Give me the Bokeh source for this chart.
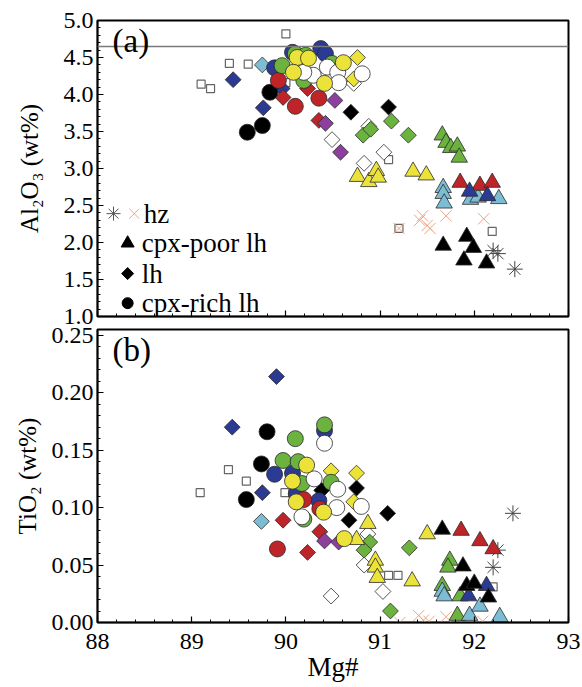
from bokeh.plotting import figure
from bokeh.layouts import column
from bokeh.models import Range1d, Label, Span, FixedTicker, CustomJSTickFormatter, NumeralTickFormatter
from bokeh.embed import file_html
from bokeh.resources import INLINE

# ---------------- Panel (a): Mg# vs Al2O3 ----------------
A_BLUE_CIRCLE_MG = [90.07, 90.37, 90.42, 89.88]
A_BLUE_CIRCLE_AL = [4.57, 4.62, 4.55, 4.36]
A_BLUE_DIAMOND_MG = [89.44, 89.76, 89.96]
A_BLUE_DIAMOND_AL = [4.20, 3.82, 4.08]
A_BLUE_TRIANGLE_MG = [91.95, 92.14]
A_BLUE_TRIANGLE_AL = [2.69, 2.63]
A_LBLUE_DIAMOND_MG = [89.75]
A_LBLUE_DIAMOND_AL = [4.40]
A_LBLUE_TRIANGLE_MG = [91.67, 91.67, 91.68, 91.96, 92.04, 92.26]
A_LBLUE_TRIANGLE_AL = [2.74, 2.66, 2.53, 2.58, 2.61, 2.59]
A_RED_CIRCLE_MG = [89.92, 90.10, 90.35]
A_RED_CIRCLE_AL = [4.19, 3.84, 3.95]
A_RED_DIAMOND_MG = [89.97, 90.23, 90.35]
A_RED_DIAMOND_AL = [3.96, 4.08, 3.65]
A_RED_TRIANGLE_MG = [91.85, 92.06, 92.19]
A_RED_TRIANGLE_AL = [2.81, 2.77, 2.81]
A_GREEN_CIRCLE_MG = [90.10, 90.21, 89.96, 90.19, 90.49]
A_GREEN_CIRCLE_AL = [4.55, 4.53, 4.39, 4.19, 4.42]
A_GREEN_DIAMOND_MG = [90.82, 90.90, 91.12, 91.30]
A_GREEN_DIAMOND_AL = [3.45, 3.53, 3.64, 3.45]
A_GREEN_TRIANGLE_MG = [91.66, 91.70, 91.75, 91.82, 91.84]
A_GREEN_TRIANGLE_AL = [3.45, 3.35, 3.28, 3.30, 3.15]
A_YELLOW_CIRCLE_MG = [90.12, 90.24, 90.08, 90.61, 90.41]
A_YELLOW_CIRCLE_AL = [4.50, 4.49, 4.30, 4.43, 4.15]
A_YELLOW_DIAMOND_MG = [90.76, 90.72]
A_YELLOW_DIAMOND_AL = [4.50, 4.21]
A_YELLOW_TRIANGLE_MG = [90.76, 90.88, 90.96, 90.98, 91.35, 91.49]
A_YELLOW_TRIANGLE_AL = [2.89, 2.82, 2.97, 2.88, 2.96, 2.91]
A_WHITE_CIRCLE_MG = [90.44, 90.29, 90.55, 90.56, 90.81, 90.19]
A_WHITE_CIRCLE_AL = [4.37, 4.26, 4.30, 4.16, 4.28, 4.30]
A_WHITE_DIAMOND_MG = [90.72, 90.49, 90.88, 91.04, 90.83]
A_WHITE_DIAMOND_AL = [4.15, 3.39, 3.57, 3.22, 3.07]
A_BLACK_CIRCLE_MG = [89.83, 89.75, 89.59]
A_BLACK_CIRCLE_AL = [4.03, 3.58, 3.49]
A_BLACK_DIAMOND_MG = [90.69, 91.09]
A_BLACK_DIAMOND_AL = [3.76, 3.83]
A_BLACK_TRIANGLE_MG = [91.67, 91.92, 91.99, 91.89, 92.13]
A_BLACK_TRIANGLE_AL = [1.96, 2.08, 1.93, 1.76, 1.72]
A_PURPLE_DIAMOND_MG = [90.52, 90.42, 90.58]
A_PURPLE_DIAMOND_AL = [3.92, 3.61, 3.22]
A_GRAY_SQUARE_MG = [90.00, 89.40, 89.60, 89.10, 89.20, 90.00, 91.09, 91.20, 92.19]
A_GRAY_SQUARE_AL = [4.82, 4.42, 4.41, 4.14, 4.08, 4.16, 3.12, 2.19, 2.15]
A_HZ_X_MG = [91.20, 91.45, 91.42, 91.50, 91.53, 91.70, 92.10]
A_HZ_X_AL = [2.19, 2.36, 2.30, 2.23, 2.19, 2.36, 2.32]
A_HZ_AST_MG = [92.20, 92.25, 92.43]
A_HZ_AST_AL = [1.89, 1.85, 1.64]
AL_REFERENCE_LINE = 4.65

# ---------------- Panel (b): Mg# vs TiO2 ----------------
B_BLUE_CIRCLE_MG = [90.41, 89.88, 90.07, 90.11, 90.35]
B_BLUE_CIRCLE_TI = [0.167, 0.129, 0.130, 0.112, 0.106]
B_BLUE_DIAMOND_MG = [89.90, 89.43, 89.75]
B_BLUE_DIAMOND_TI = [0.214, 0.170, 0.113]
B_BLUE_TRIANGLE_MG = [92.13, 91.94]
B_BLUE_TRIANGLE_TI = [0.032, 0.023]
B_LBLUE_DIAMOND_MG = [89.74]
B_LBLUE_DIAMOND_TI = [0.088]
B_LBLUE_TRIANGLE_MG = [91.66, 91.68, 91.95, 92.06, 92.27]
B_LBLUE_TRIANGLE_TI = [0.027, 0.023, 0.006, 0.014, 0.005]
B_RED_CIRCLE_MG = [89.91, 90.19, 90.36]
B_RED_CIRCLE_TI = [0.064, 0.107, 0.099]
B_RED_DIAMOND_MG = [89.97, 90.36, 90.23]
B_RED_DIAMOND_TI = [0.089, 0.079, 0.061]
B_RED_TRIANGLE_MG = [91.86, 92.06, 92.20]
B_RED_TRIANGLE_TI = [0.080, 0.071, 0.064]
B_GREEN_CIRCLE_MG = [90.10, 90.41, 89.97, 90.13, 90.17, 90.48, 90.19]
B_GREEN_CIRCLE_TI = [0.160, 0.172, 0.141, 0.140, 0.121, 0.122, 0.090]
B_GREEN_DIAMOND_MG = [90.89, 90.83, 91.31, 91.11]
B_GREEN_DIAMOND_TI = [0.070, 0.063, 0.065, 0.010]
B_GREEN_TRIANGLE_MG = [91.74, 91.72, 91.66, 91.85, 91.82]
B_GREEN_TRIANGLE_TI = [0.054, 0.048, 0.032, 0.023, 0.006]
B_YELLOW_CIRCLE_MG = [90.22, 90.07, 90.11, 90.40, 90.62]
B_YELLOW_CIRCLE_TI = [0.137, 0.123, 0.105, 0.096, 0.073]
B_YELLOW_DIAMOND_MG = [90.48, 90.75, 90.72]
B_YELLOW_DIAMOND_TI = [0.132, 0.130, 0.105]
B_YELLOW_TRIANGLE_MG = [90.87, 90.75, 90.95, 90.95, 90.97, 91.50, 91.34]
B_YELLOW_TRIANGLE_TI = [0.086, 0.072, 0.054, 0.048, 0.039, 0.077, 0.036]
B_WHITE_CIRCLE_MG = [90.41, 90.30, 90.55, 90.54, 90.80, 90.17]
B_WHITE_CIRCLE_TI = [0.156, 0.125, 0.116, 0.100, 0.101, 0.092]
B_WHITE_DIAMOND_MG = [90.83, 90.87, 91.03, 90.48]
B_WHITE_DIAMOND_TI = [0.050, 0.077, 0.027, 0.023]
B_BLACK_CIRCLE_MG = [89.80, 89.74, 89.58]
B_BLACK_CIRCLE_TI = [0.166, 0.138, 0.107]
B_BLACK_DIAMOND_MG = [90.38, 90.75, 90.67, 91.08]
B_BLACK_DIAMOND_TI = [0.115, 0.117, 0.089, 0.095]
B_BLACK_TRIANGLE_MG = [91.66, 91.88, 91.92, 92.00, 92.15]
B_BLACK_TRIANGLE_TI = [0.081, 0.049, 0.032, 0.034, 0.022]
B_PURPLE_DIAMOND_MG = [90.41, 90.56]
B_PURPLE_DIAMOND_TI = [0.071, 0.070]
B_GRAY_SQUARE_MG = [89.39, 89.58, 89.09, 89.99, 91.09, 91.19, 92.20]
B_GRAY_SQUARE_TI = [0.133, 0.123, 0.113, 0.113, 0.041, 0.041, 0.031]
B_HZ_X_MG = [91.21, 91.41, 91.46, 91.52, 91.70, 92.09]
B_HZ_X_TI = [0.000, 0.006, 0.002, 0.001, 0.005, 0.001]
B_HZ_AST_MG = [92.41, 92.25, 92.20]
B_HZ_AST_TI = [0.095, 0.063, 0.048]

# ---------------- Legend ----------------
LEGEND_LABELS = ["hz", "cpx-poor lh", "lh", "cpx-rich lh"]
LEGEND_AL = [2.39, 1.99, 1.58, 1.18]

COLORS = {
    "blue": "#2B3A92", "lblue": "#7DBDD4", "red": "#BF2428", "green": "#6BB23E",
    "yellow": "#ECE33A", "white": "#FFFFFF", "black": "#000000", "purple": "#8C3F9C",
}

FONT = "Liberation Serif"


def draw(p, shape, color, xs, ys):
    lc = "#2a2a2a"
    if shape == "circle":
        p.scatter(xs, ys, marker="circle", size=16, fill_color=color, line_color=lc, line_width=0.8)
    elif shape == "diamond":
        p.scatter(xs, ys, marker="square", angle=45, angle_units="deg", size=11.2,
                  fill_color=color, line_color=lc, line_width=0.8)
    elif shape == "triangle":
        p.scatter(xs, ys, marker="triangle", size=16.5, fill_color=color, line_color=lc, line_width=0.8)
    elif shape == "square":
        p.scatter(xs, ys, marker="square", size=8, fill_color="white", line_color="#666666", line_width=1.2)
    elif shape == "x":
        p.scatter(xs, ys, marker="x", size=16, line_color="#F2A281", line_width=1)
    elif shape == "asterisk":
        p.scatter(xs, ys, marker="asterisk", size=16, line_color="#444444", line_width=1)


def style(p, yticks, yminor, yfmt, ylabel, ystandoff, show_x_labels):
    p.xgrid.visible = False
    p.ygrid.visible = False
    p.outline_line_color = "black"
    p.outline_line_width = 2
    p.background_fill_color = "white"
    p.border_fill_color = "white"
    xt = [88, 89, 90, 91, 92, 93]
    xminor = [88 + 0.2 * i for i in range(26)]
    for ax in p.xaxis:
        ax.ticker = FixedTicker(ticks=xt, minor_ticks=xminor)
        ax.major_tick_in = 6
        ax.major_tick_out = 0
        ax.minor_tick_in = 3
        ax.minor_tick_out = 0
        ax.axis_line_width = 1.5
        ax.major_tick_line_width = 1.2
        ax.major_label_text_font = FONT
        ax.major_label_text_font_size = "24px"
        ax.major_label_text_color = "black"
        ax.major_label_standoff = 11
        ax.axis_label_text_font = FONT
        ax.axis_label_text_font_size = "27px"
        ax.axis_label_text_font_style = "normal"
        ax.axis_label_text_color = "black"
        ax.axis_label_standoff = 0
        if not show_x_labels:
            ax.formatter = CustomJSTickFormatter(code="return ''")
            ax.major_label_standoff = 0
    for ax in p.yaxis:
        ax.ticker = FixedTicker(ticks=yticks, minor_ticks=yminor)
        ax.formatter = NumeralTickFormatter(format=yfmt)
        ax.major_tick_in = 6
        ax.major_tick_out = 0
        ax.minor_tick_in = 3
        ax.minor_tick_out = 0
        ax.axis_line_width = 1.5
        ax.major_tick_line_width = 1.2
        ax.major_label_text_font = FONT
        ax.major_label_text_font_size = "24px"
        ax.major_label_text_color = "black"
        ax.major_label_standoff = 4
        ax.axis_label = ylabel
        ax.axis_label_text_font = FONT
        ax.axis_label_text_font_size = "25px"
        ax.axis_label_text_font_style = "normal"
        ax.axis_label_text_color = "black"
        ax.axis_label_standoff = ystandoff


# ---------------- Figure (a) ----------------
p1 = figure(frame_width=471, frame_height=296, output_backend="svg", toolbar_location=None,
            x_range=Range1d(88, 93), y_range=Range1d(1.0, 5.0),
            min_border_left=97, min_border_right=14, min_border_top=20, min_border_bottom=10)
style(p1, [1.0 + 0.5 * i for i in range(9)], [1.0 + 0.1 * i for i in range(41)], "0.0",
      "Al\u2082O\u2083 (wt%)", 18, False)
p1.add_layout(Span(location=AL_REFERENCE_LINE, dimension="width", line_color="#7a7a7a", line_width=1.5))

a_series = [
    ("square", "gray", A_GRAY_SQUARE_MG, A_GRAY_SQUARE_AL),
    ("x", "pink", A_HZ_X_MG, A_HZ_X_AL),
    ("asterisk", "gray", A_HZ_AST_MG, A_HZ_AST_AL),
    ("diamond", "blue", A_BLUE_DIAMOND_MG, A_BLUE_DIAMOND_AL),
    ("diamond", "lblue", A_LBLUE_DIAMOND_MG, A_LBLUE_DIAMOND_AL),
    ("diamond", "red", A_RED_DIAMOND_MG, A_RED_DIAMOND_AL),
    ("diamond", "white", A_WHITE_DIAMOND_MG, A_WHITE_DIAMOND_AL),
    ("diamond", "purple", A_PURPLE_DIAMOND_MG, A_PURPLE_DIAMOND_AL),
    ("diamond", "green", A_GREEN_DIAMOND_MG, A_GREEN_DIAMOND_AL),
    ("diamond", "black", A_BLACK_DIAMOND_MG, A_BLACK_DIAMOND_AL),
    ("diamond", "yellow", A_YELLOW_DIAMOND_MG, A_YELLOW_DIAMOND_AL),
    ("triangle", "green", A_GREEN_TRIANGLE_MG, A_GREEN_TRIANGLE_AL),
    ("triangle", "yellow", A_YELLOW_TRIANGLE_MG, A_YELLOW_TRIANGLE_AL),
    ("triangle", "lblue", A_LBLUE_TRIANGLE_MG, A_LBLUE_TRIANGLE_AL),
    ("triangle", "red", A_RED_TRIANGLE_MG, A_RED_TRIANGLE_AL),
    ("triangle", "blue", A_BLUE_TRIANGLE_MG, A_BLUE_TRIANGLE_AL),
    ("triangle", "black", A_BLACK_TRIANGLE_MG, A_BLACK_TRIANGLE_AL),
    ("circle", "blue", A_BLUE_CIRCLE_MG, A_BLUE_CIRCLE_AL),
    ("circle", "black", A_BLACK_CIRCLE_MG, A_BLACK_CIRCLE_AL),
    ("circle", "red", A_RED_CIRCLE_MG, A_RED_CIRCLE_AL),
    ("circle", "green", A_GREEN_CIRCLE_MG, A_GREEN_CIRCLE_AL),
    ("circle", "white", A_WHITE_CIRCLE_MG, A_WHITE_CIRCLE_AL),
    ("circle", "yellow", A_YELLOW_CIRCLE_MG, A_YELLOW_CIRCLE_AL),
]
for shape, cname, xs, ys in a_series:
    draw(p1, shape, COLORS.get(cname, "#888888"), xs, ys)

# legend (inside panel a)
p1.scatter([88.17], [LEGEND_AL[0]], marker="asterisk", size=14, line_color="#555555", line_width=1)
p1.scatter([88.39], [LEGEND_AL[0]], marker="x", size=14, line_color="#F2A281", line_width=1)
p1.scatter([88.32], [LEGEND_AL[1]], marker="triangle", size=13, fill_color="black", line_color="black")
p1.scatter([88.32], [LEGEND_AL[2]], marker="square", angle=45, angle_units="deg", size=8.5,
           fill_color="black", line_color="black")
p1.scatter([88.32], [LEGEND_AL[3]], marker="circle", size=11, fill_color="black", line_color="black")
for i, lab in enumerate(LEGEND_LABELS):
    p1.add_layout(Label(x=88.49 if i == 0 else 88.47, y=LEGEND_AL[i], text=lab, text_font=FONT,
                        text_font_size="27px", text_baseline="middle", text_color="black"))
p1.add_layout(Label(x=88.16, y=4.72, text="(a)", text_font=FONT, text_font_size="33px",
                    text_baseline="middle", text_color="black"))

# ---------------- Figure (b) ----------------
p2 = figure(frame_width=471, frame_height=293, output_backend="svg", toolbar_location=None,
            x_range=Range1d(88, 93), y_range=Range1d(0.0, 0.255),
            min_border_left=97, min_border_right=14, min_border_top=3, min_border_bottom=10)
style(p2, [0.05 * i for i in range(6)], [0.01 * i for i in range(26)], "0.00",
      "TiO\u2082 (wt%)", 8, True)
p2.xaxis.axis_label = "Mg#"

b_series = [
    ("square", "gray", B_GRAY_SQUARE_MG, B_GRAY_SQUARE_TI),
    ("x", "pink", B_HZ_X_MG, B_HZ_X_TI),
    ("asterisk", "gray", B_HZ_AST_MG, B_HZ_AST_TI),
    ("diamond", "blue", B_BLUE_DIAMOND_MG, B_BLUE_DIAMOND_TI),
    ("diamond", "lblue", B_LBLUE_DIAMOND_MG, B_LBLUE_DIAMOND_TI),
    ("diamond", "red", B_RED_DIAMOND_MG, B_RED_DIAMOND_TI),
    ("diamond", "white", B_WHITE_DIAMOND_MG, B_WHITE_DIAMOND_TI),
    ("diamond", "purple", B_PURPLE_DIAMOND_MG, B_PURPLE_DIAMOND_TI),
    ("diamond", "green", B_GREEN_DIAMOND_MG, B_GREEN_DIAMOND_TI),
    ("diamond", "black", B_BLACK_DIAMOND_MG, B_BLACK_DIAMOND_TI),
    ("diamond", "yellow", B_YELLOW_DIAMOND_MG, B_YELLOW_DIAMOND_TI),
    ("triangle", "green", B_GREEN_TRIANGLE_MG, B_GREEN_TRIANGLE_TI),
    ("triangle", "yellow", B_YELLOW_TRIANGLE_MG, B_YELLOW_TRIANGLE_TI),
    ("triangle", "lblue", B_LBLUE_TRIANGLE_MG, B_LBLUE_TRIANGLE_TI),
    ("triangle", "red", B_RED_TRIANGLE_MG, B_RED_TRIANGLE_TI),
    ("triangle", "blue", B_BLUE_TRIANGLE_MG, B_BLUE_TRIANGLE_TI),
    ("triangle", "black", B_BLACK_TRIANGLE_MG, B_BLACK_TRIANGLE_TI),
    ("circle", "blue", B_BLUE_CIRCLE_MG, B_BLUE_CIRCLE_TI),
    ("circle", "black", B_BLACK_CIRCLE_MG, B_BLACK_CIRCLE_TI),
    ("circle", "red", B_RED_CIRCLE_MG, B_RED_CIRCLE_TI),
    ("circle", "green", B_GREEN_CIRCLE_MG, B_GREEN_CIRCLE_TI),
    ("circle", "white", B_WHITE_CIRCLE_MG, B_WHITE_CIRCLE_TI),
    ("circle", "yellow", B_YELLOW_CIRCLE_MG, B_YELLOW_CIRCLE_TI),
]
for shape, cname, xs, ys in b_series:
    draw(p2, shape, COLORS.get(cname, "#888888"), xs, ys)

p2.add_layout(Label(x=88.16, y=0.237, text="(b)", text_font=FONT, text_font_size="33px",
                    text_baseline="middle", text_color="black"))

layout = column(p1, p2, spacing=0)
open("out.html", "w").write(file_html(layout, INLINE))
